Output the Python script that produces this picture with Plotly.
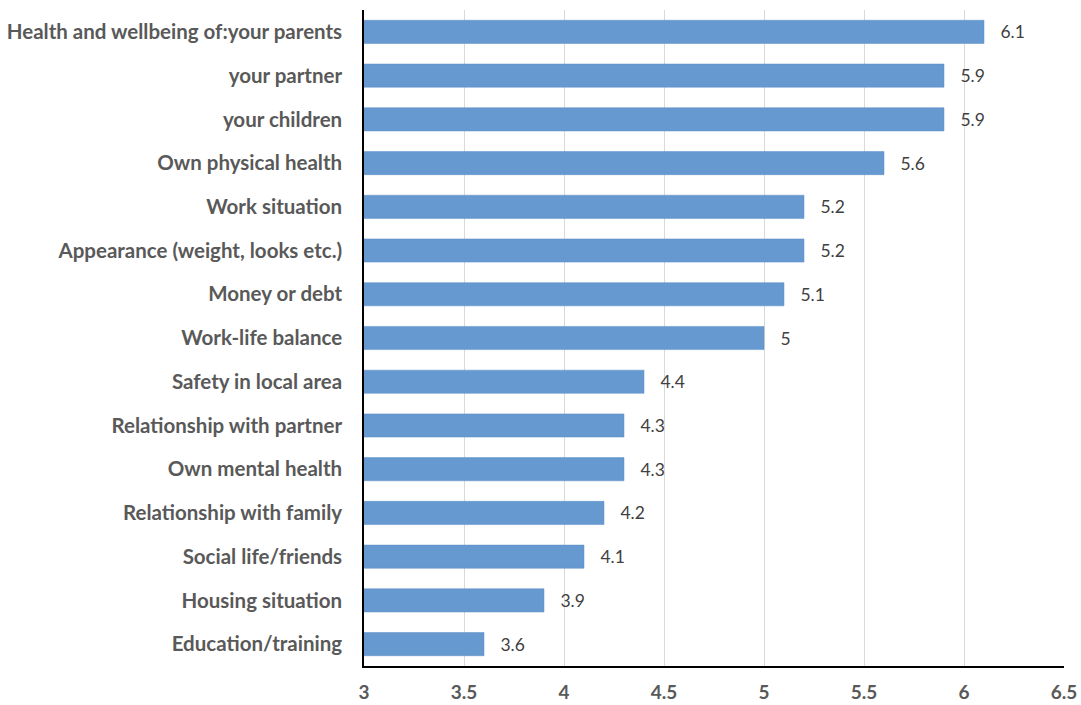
import plotly.graph_objects as go

categories = [
    "Health and wellbeing of:your parents",
    "your partner",
    "your children",
    "Own physical health",
    "Work situation",
    "Appearance (weight, looks etc.)",
    "Money or debt",
    "Work-life balance",
    "Safety in local area",
    "Relationship with partner",
    "Own mental health",
    "Relationship with family",
    "Social life/friends",
    "Housing situation",
    "Education/training",
]
values = [6.1, 5.9, 5.9, 5.6, 5.2, 5.2, 5.1, 5.0, 4.4, 4.3, 4.3, 4.2, 4.1, 3.9, 3.6]
x_ticks = [3, 3.5, 4, 4.5, 5, 5.5, 6, 6.5]

fig = go.Figure(go.Bar(
    y=categories,
    x=values,
    orientation="h",
    marker=dict(color="#6699d0", line=dict(color="#5b8cc7", width=0.5)),
    text=[f"{v:g}" for v in values],
    texttemplate="   %{text}",
    textposition="outside",
    cliponaxis=True,
    textfont=dict(family="Lato", size=17.5, color="#404040"),
))

fig.update_layout(
    width=1081, height=705,
    margin=dict(l=364, r=17, t=10, b=39, autoexpand=False),
    plot_bgcolor="white", paper_bgcolor="white",
    bargap=0.47,
    showlegend=False,
    xaxis=dict(
        range=[3, 6.5],
        tickvals=x_ticks,
        ticktext=[f"{t:g}" for t in x_ticks],
        showgrid=True, gridcolor="#d9d9d9", gridwidth=1,
        showline=True, linecolor="#000000", linewidth=1.5,
        tickfont=dict(family="Lato", size=19, color="#595959", weight="bold"),
        ticks="outside", ticklen=8, tickcolor="rgba(0,0,0,0)",
        zeroline=False, automargin=False,
    ),
    yaxis=dict(
        categoryorder="array", categoryarray=categories[::-1],
        showline=True, linecolor="#000000", linewidth=1.5,
        tickfont=dict(family="Lato", size=20.5, color="#595959", weight="bold"),
        ticks="", ticklabelstandoff=16, automargin=False,
    ),
)
fig.write_html("out.html")
